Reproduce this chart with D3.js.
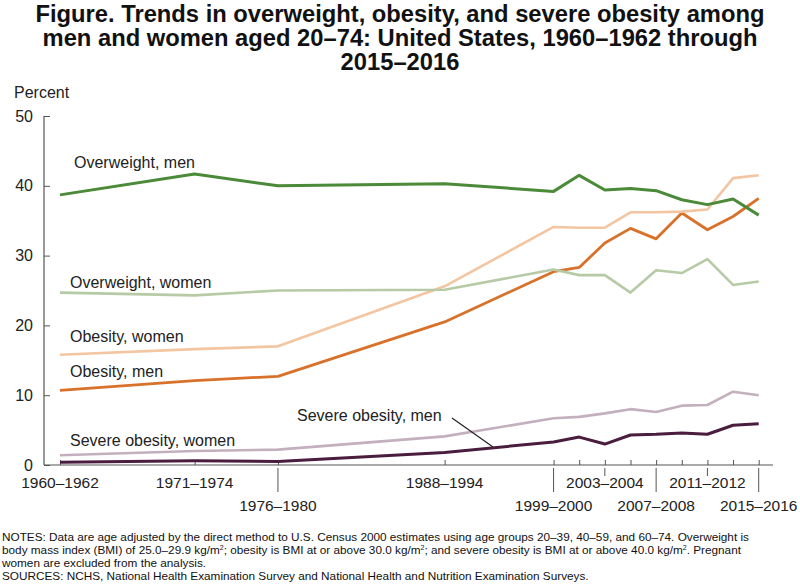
<!DOCTYPE html>
<html>
<head>
<meta charset="utf-8">
<script src="https://cdn.jsdelivr.net/npm/d3@7"></script>
<style>
  html, body { margin: 0; padding: 0; background: #fff; }
  svg { display: block; }
</style>
</head>
<body>
<div id="chart"></div>
<script>
// ---------- DATA ----------
const periods = ["1960–1962","1971–1974","1976–1980","1988–1994","1999–2000","2001–2002","2003–2004","2005–2006","2007–2008","2009–2010","2011–2012","2013–2014","2015–2016"];
const midYears = [1961, 1971.5, 1978, 1991, 1999.5, 2001.5, 2003.5, 2005.5, 2007.5, 2009.5, 2011.5, 2013.5, 2015.5];

const overweightMen   = [38.7, 41.7, 40.0, 40.3, 39.2, 41.5, 39.4, 39.6, 39.3, 38.0, 37.3, 38.1, 35.8];
const overweightWomen = [24.7, 24.3, 25.0, 25.1, 28.0, 27.2, 27.2, 24.7, 27.9, 27.5, 29.5, 25.8, 26.3];
const obesityWomen    = [15.8, 16.6, 17.0, 25.6, 34.1, 34.0, 34.0, 36.2, 36.2, 36.3, 36.6, 41.1, 41.5];
const obesityMen      = [10.7, 12.1, 12.7, 20.5, 27.7, 28.3, 31.8, 33.9, 32.4, 36.1, 33.7, 35.6, 38.2];
const severeWomen     = [1.4, 2.0, 2.2, 4.1, 6.7, 6.9, 7.4, 8.0, 7.6, 8.5, 8.6, 10.5, 10.0];
const severeMen       = [0.4, 0.6, 0.5, 1.8, 3.3, 4.0, 3.0, 4.3, 4.4, 4.6, 4.4, 5.7, 5.9];

const yTicks = [0, 10, 20, 30, 40, 50];
const labeled = ["1960–1962","1971–1974","1976–1980","1988–1994","1999–2000","2003–2004","2007–2008","2011–2012","2015–2016"];
const lowerRow = ["1976–1980","1999–2000","2007–2008","2015–2016"];

const titleLines = [
  "Figure. Trends in overweight, obesity, and severe obesity among",
  "men and women aged 20–74: United States, 1960–1962 through",
  "2015–2016"
];

const series = [
  {name: "Overweight, men",       values: overweightMen,   color: "#4b8a38", width: 3},
  {name: "Overweight, women",     values: overweightWomen, color: "#b7caa6", width: 2.6},
  {name: "Obesity, women",        values: obesityWomen,    color: "#f3c5a0", width: 2.6},
  {name: "Obesity, men",          values: obesityMen,      color: "#d8712a", width: 2.8},
  {name: "Severe obesity, women", values: severeWomen,     color: "#c3afbe", width: 2.6},
  {name: "Severe obesity, men",   values: severeMen,       color: "#4a1d3f", width: 3}
];

// ---------- LAYOUT ----------
const W = 800, H = 588;
const svg = d3.select("#chart").append("svg").attr("width", W).attr("height", H);
const sans = "'Liberation Sans',Arial,Helvetica,sans-serif";

function sizeForWidth(text, weight, base, target) {
  const t = svg.append("text").attr("font-family", sans).attr("font-weight", weight)
    .attr("font-size", base).text(text);
  const w = t.node().getComputedTextLength();
  t.remove();
  return w > 0 ? base * target / w : base;
}

// Title
const titleSize = sizeForWidth(titleLines[0], "bold", 22, 729);
const titleBase = [22, 46, 70];
titleLines.forEach((t, i) => {
  svg.append("text")
    .attr("x", 400).attr("y", titleBase[i])
    .attr("text-anchor", "middle")
    .attr("font-family", sans).attr("font-weight", "bold")
    .attr("font-size", titleSize.toFixed(2)).attr("fill", "#111")
    .text(t);
});

const x = d3.scaleLinear().domain([1961, 2015.5]).range([60, 758.7]);
const y = d3.scaleLinear().domain([0, 50]).range([465, 116]);
const axisLeftX = 44, axisRightX = 773;

// Y axis
const yAxis = d3.axisLeft(y).tickValues(yTicks).tickSize(-6).tickPadding(11).tickFormat(d3.format("d"));
const gy = svg.append("g").attr("transform", `translate(${axisLeftX},0)`).call(yAxis);
gy.select(".domain").remove();
gy.selectAll(".tick line").attr("stroke", "#555").attr("stroke-width", 1);
gy.selectAll(".tick text").attr("font-family", sans).attr("font-size", 16).attr("fill", "#222");
svg.append("line").attr("x1", axisLeftX).attr("x2", axisLeftX).attr("y1", y(50)).attr("y2", y(0))
  .attr("stroke", "#555").attr("stroke-width", 1.2);

svg.append("text").attr("x", 14).attr("y", 98)
  .attr("font-family", sans).attr("font-size", 16).attr("fill", "#222").text("Percent");

// X axis
svg.append("line").attr("x1", axisLeftX).attr("x2", axisRightX).attr("y1", y(0)).attr("y2", y(0))
  .attr("stroke", "#555").attr("stroke-width", 1.2);
const xAxis = d3.axisBottom(x).tickValues(midYears).tickSize(-5).tickFormat("");
const gx = svg.append("g").attr("transform", `translate(0,${y(0)})`).call(xAxis);
gx.select(".domain").remove();
gx.selectAll(".tick line").attr("stroke", "#555").attr("stroke-width", 1);

periods.forEach((p, i) => {
  if (!labeled.includes(p)) return;
  const cx = x(midYears[i]);
  const low = lowerRow.includes(p);
  if (low) {
    svg.append("line").attr("x1", cx).attr("x2", cx).attr("y1", 468).attr("y2", 492)
      .attr("stroke", "#555").attr("stroke-width", 1);
  } else if (p === "2003–2004" || p === "2011–2012") {
    svg.append("line").attr("x1", cx).attr("x2", cx).attr("y1", 468).attr("y2", 476)
      .attr("stroke", "#555").attr("stroke-width", 1);
  }
  svg.append("text").attr("x", cx).attr("y", low ? 511 : 488)
    .attr("text-anchor", "middle").attr("font-family", sans)
    .attr("font-size", 15.5).attr("fill", "#222").text(p);
});

// Lines
const line = d3.line().x((d, i) => x(midYears[i])).y(d => y(d));
series.slice().reverse().forEach(s => {
  svg.append("path").datum(s.values)
    .attr("d", line).attr("fill", "none")
    .attr("stroke", s.color).attr("stroke-width", s.width)
    .attr("stroke-linejoin", "round").attr("stroke-linecap", "butt");
});

// Series labels
const labelPos = [
  {t: "Overweight, men", x: 74, y: 167.5},
  {t: "Overweight, women", x: 70, y: 288},
  {t: "Obesity, women", x: 70, y: 342},
  {t: "Obesity, men", x: 70, y: 377},
  {t: "Severe obesity, women", x: 70, y: 445.5},
  {t: "Severe obesity, men", x: 297, y: 421}
];
labelPos.forEach(l => {
  svg.append("text").attr("x", l.x).attr("y", l.y)
    .attr("font-family", sans).attr("font-size", 16).attr("fill", "#222").text(l.t);
});
// leader line for "Severe obesity, men"
svg.append("line").attr("x1", 452).attr("y1", 418).attr("x2", 493).attr("y2", 447)
  .attr("stroke", "#222").attr("stroke-width", 1.2);

// Notes
const noteLine1 = "NOTES: Data are age adjusted by the direct method to U.S. Census 2000 estimates using age groups 20–39, 40–59, and 60–74. Overweight is";
const noteSize = sizeForWidth(noteLine1, "normal", 12, 748);
const notes = svg.append("g").attr("font-family", sans).attr("font-size", noteSize.toFixed(2)).attr("fill", "#111");
notes.append("text").attr("x", 2).attr("y", 541).text(noteLine1);
const n2 = notes.append("text").attr("x", 2).attr("y", 554);
n2.append("tspan").text("body mass index (BMI) of 25.0–29.9 kg/m");
n2.append("tspan").attr("dy", -4).attr("font-size", 7).text("2");
n2.append("tspan").attr("dy", 4).text("; obesity is BMI at or above 30.0 kg/m");
n2.append("tspan").attr("dy", -4).attr("font-size", 7).text("2");
n2.append("tspan").attr("dy", 4).text("; and severe obesity is BMI at or above 40.0 kg/m");
n2.append("tspan").attr("dy", -4).attr("font-size", 7).text("2");
n2.append("tspan").attr("dy", 4).text(". Pregnant");
notes.append("text").attr("x", 2).attr("y", 567).text("women are excluded from the analysis.");
notes.append("text").attr("x", 2).attr("y", 580)
  .text("SOURCES: NCHS, National Health Examination Survey and National Health and Nutrition Examination Surveys.");
</script>
</body>
</html>
